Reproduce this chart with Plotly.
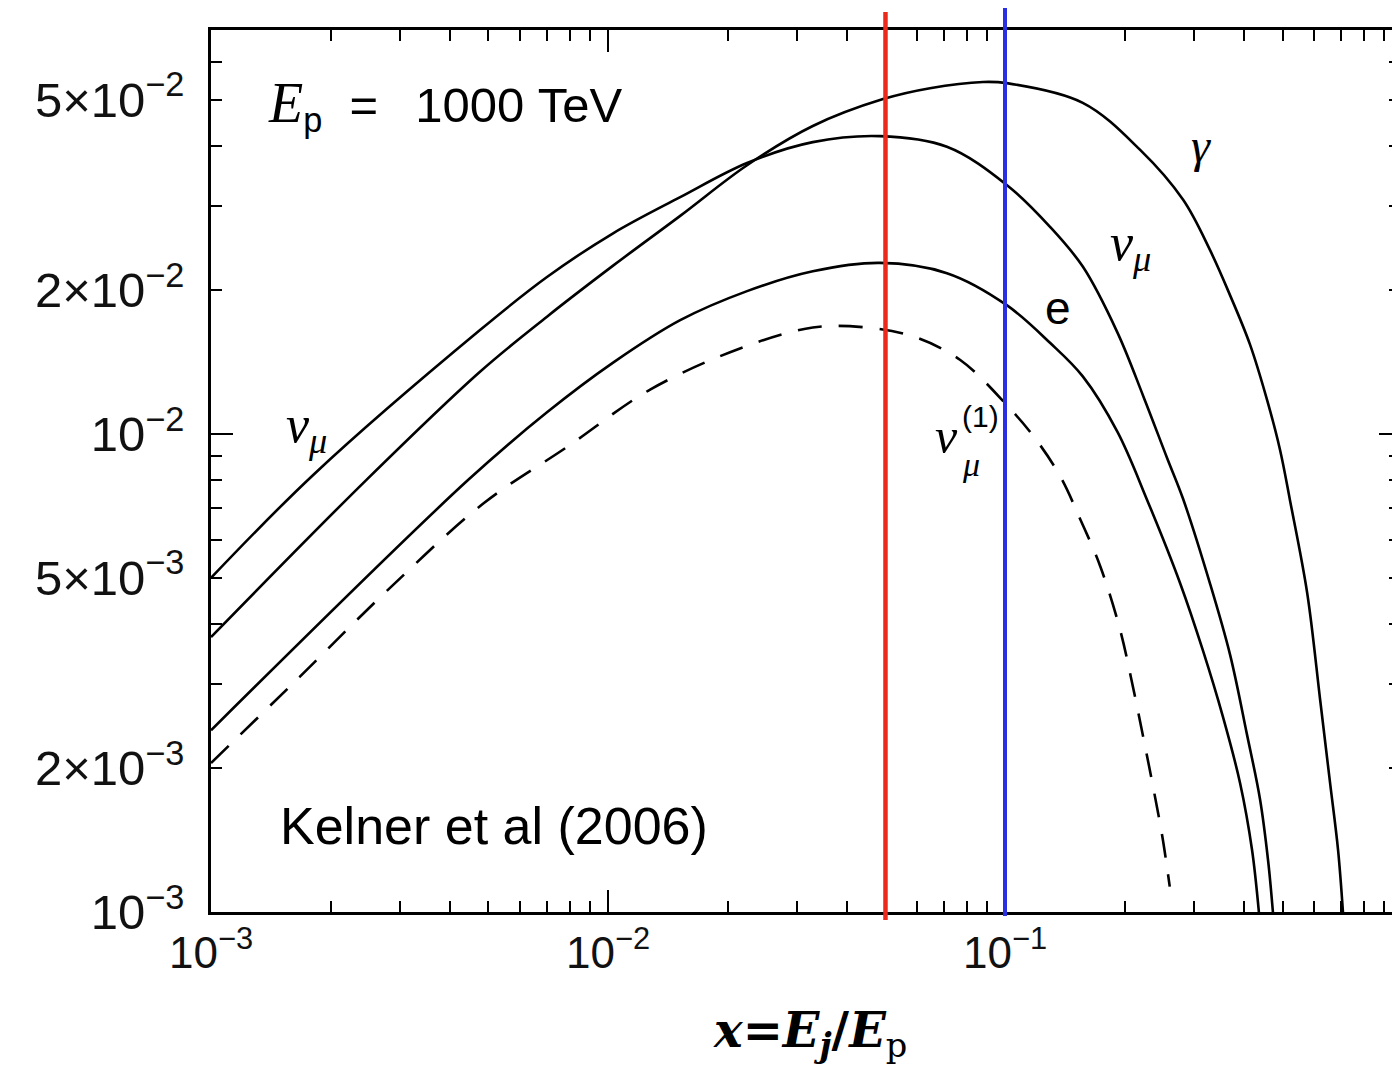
import plotly.graph_objects as go

# ---------------- data ----------------
gamma_x = [0.00100, 0.00246, 0.00476, 0.00702, 0.0103, 0.0152, 0.0224, 0.0328, 0.0493, 0.0647,
           0.0880, 0.101, 0.157, 0.219, 0.281, 0.328, 0.369, 0.414, 0.457, 0.493, 0.522, 0.577,
           0.622, 0.659, 0.690, 0.710]
gamma_y = [0.00376, 0.00801, 0.0135, 0.0176, 0.0225, 0.0286, 0.0365, 0.0441, 0.0502, 0.0529,
           0.0545, 0.0542, 0.0493, 0.0393, 0.0309, 0.0243, 0.0195, 0.0154, 0.0118, 0.00926,
           0.00728, 0.00465, 0.00278, 0.00186, 0.00135, 0.00100]

numu_x = [0.00100, 0.00182, 0.00476, 0.00702, 0.0103, 0.0152, 0.0224, 0.0328, 0.0484, 0.0714,
          0.101, 0.130, 0.157, 0.192, 0.223, 0.256, 0.281, 0.328, 0.369, 0.407, 0.439, 0.460, 0.473]
numu_y = [0.00500, 0.00825, 0.0165, 0.0213, 0.0263, 0.0313, 0.0369, 0.0408, 0.0420, 0.0399,
          0.0332, 0.0271, 0.0224, 0.0163, 0.0120, 0.00891, 0.00731, 0.00488, 0.00345, 0.00235,
          0.00172, 0.00128, 0.00100]

e_x = [0.00100, 0.00444, 0.00702, 0.0103, 0.0152, 0.0224, 0.0328, 0.0484, 0.0714, 0.101, 0.130,
       0.157, 0.192, 0.228, 0.276, 0.315, 0.354, 0.391, 0.419, 0.436]
e_y = [0.00240, 0.00801, 0.0111, 0.0141, 0.0173, 0.0199, 0.0219, 0.0228, 0.0217, 0.0186, 0.0155,
       0.0132, 0.0101, 0.00728, 0.00488, 0.00353, 0.00256, 0.00186, 0.00135, 0.00100]

numu1_x = [0.00100, 0.00167, 0.00279, 0.00487, 0.00788, 0.0128, 0.0215, 0.0328, 0.0449, 0.0587,
           0.0770, 0.101, 0.120, 0.138, 0.155, 0.174, 0.195, 0.210, 0.223, 0.236, 0.249, 0.260]
numu1_y = [0.00205, 0.00310, 0.00472, 0.00717, 0.00939, 0.0124, 0.0151, 0.0167, 0.0167, 0.0160,
           0.0143, 0.0115, 0.00971, 0.00813, 0.00661, 0.00527, 0.00389, 0.00296, 0.00232,
           0.00183, 0.00144, 0.00113]

vline_red_x = 0.05
vline_blue_x = 0.1

x_major = [1e-3, 1e-2, 1e-1]
x_major_text = ["10<sup>\u22123</sup>", "10<sup>\u22122</sup>", "10<sup>\u22121</sup>"]
x_minor = [m * d for d in (1e-3, 1e-2, 1e-1) for m in range(2, 10)]

y_label_vals = [1e-3, 2e-3, 5e-3, 1e-2, 2e-2, 5e-2]
y_label_text = ["10<sup>\u22123</sup>", "2\u00d710<sup>\u22123</sup>", "5\u00d710<sup>\u22123</sup>",
                "10<sup>\u22122</sup>", "2\u00d710<sup>\u22122</sup>", "5\u00d710<sup>\u22122</sup>"]
y_minor = [m * d for d in (1e-3, 1e-2) for m in (3, 4, 6, 7, 8, 9)]
y_all = sorted(y_label_vals + y_minor)

# ---------------- layout geometry ----------------
W, H = 1392, 1069
L, R, T, B = 211, 0, 30, 157
PW, PH = W - L - R, H - T - B
X_RANGE = [-3, -0.0252]
Y_RANGE = [-3, -1.1548]


def px(xp):
    return (xp - L) / PW


def py(yp):
    return (H - B - yp) / PH


SANS = "Liberation Sans, Arial, Helvetica, sans-serif"
SERIF = "Liberation Serif, Times New Roman, serif"
DSERIF = "DejaVu Serif, serif"

fig = go.Figure()
line_style = dict(color="black", width=2.6, shape="spline", smoothing=1.0)
# same ranges on y, y2, y3 -> identical placement; extra axes only add tick marks
fig.add_trace(go.Scatter(x=gamma_x, y=gamma_y, mode="lines", line=line_style, name="\u03b3", yaxis="y2"))
fig.add_trace(go.Scatter(x=numu_x, y=numu_y, mode="lines", line=line_style, name="\u03bd\u03bc", yaxis="y3"))
fig.add_trace(go.Scatter(x=e_x, y=e_y, mode="lines", line=line_style, name="e"))
fig.add_trace(go.Scatter(x=numu1_x, y=numu1_y, mode="lines",
                         line=dict(color="black", width=2.6, dash="24px,17px", shape="spline", smoothing=1.0),
                         name="\u03bd\u03bc(1)"))

fig.add_shape(type="line", xref="x", yref="paper", x0=vline_red_x, x1=vline_red_x,
              y0=-0.009, y1=1.0204, line=dict(color="#ec2a1c", width=4.5), layer="above")
fig.add_shape(type="line", xref="x", yref="paper", x0=vline_blue_x, x1=vline_blue_x,
              y0=-0.0045, y1=1.025, line=dict(color="#2b2fe3", width=4), layer="above")

axis_common = dict(type="log", showgrid=False, zeroline=False, ticks="inside",
                   tickcolor="black", tickwidth=2)

fig.update_layout(
    width=W, height=H,
    margin=dict(l=L, r=R, t=T, b=B, pad=0),
    paper_bgcolor="white", plot_bgcolor="white",
    showlegend=False,
    font=dict(family=SANS, color="black"),
    xaxis=dict(**axis_common, range=X_RANGE, tickmode="array", tickvals=x_major, ticktext=x_major_text,
               ticklen=22, showline=True, linecolor="black", linewidth=2.5, mirror="ticks",
               tickfont=dict(size=44, family=SANS, color="#111"),
               minor=dict(tickmode="array", tickvals=x_minor, ticks="inside", ticklen=11,
                          tickwidth=2, tickcolor="black")),
    yaxis=dict(**axis_common, range=Y_RANGE, tickmode="array", tickvals=y_label_vals, ticktext=y_label_text,
               ticklen=11, showline=True, linecolor="black", linewidth=2.5, mirror=False,
               ticklabelstandoff=14,
               tickfont=dict(size=49, family=SANS, color="#111"),
               minor=dict(tickmode="array", tickvals=y_minor, ticks="inside", ticklen=11,
                          tickwidth=2, tickcolor="black")),
    yaxis2=dict(**axis_common, range=Y_RANGE, overlaying="y", anchor="x", side="left",
                tickmode="array", tickvals=[1e-2], ticklen=22, showticklabels=False, showline=False),
    yaxis3=dict(**axis_common, range=Y_RANGE, overlaying="y", anchor="x", side="right",
                tickmode="array", tickvals=[1e-2], ticklen=13, showticklabels=False, showline=False,
                minor=dict(tickmode="array", tickvals=[v for v in y_all if v != 1e-2], ticks="inside",
                           ticklen=3, tickwidth=2, tickcolor="black")),
)

ann = []


def add(text, xp, yp, size, family=SANS, xanchor="center", yanchor="middle"):
    ann.append(dict(text=text, x=px(xp), y=py(yp), xref="paper", yref="paper", showarrow=False,
                    xanchor=xanchor, yanchor=yanchor, font=dict(size=size, family=family, color="black")))


add("<span style='font-family:Liberation Serif;font-size:56px'><i>E</i></span><sub>p</sub>"
    "\u00a0\u00a0=\u00a0\u00a0\u20091000\u00a0TeV", 266, 106, 49, xanchor="left")
add("Kelner et al (2006)", 278, 826, 52, xanchor="left")
add("<b><i>x</i>=<i>E<sub>j</sub></i>/<i>E</i></b><sub>p</sub>", 810, 1033, 48, family=DSERIF)
add("<i>\u03b3</i>", 1201, 146, 48, family=SERIF)
add("<i>\u03bd<sub>\u03bc</sub></i>", 1130, 246, 52, family=SERIF)
add("e", 1058, 308, 46)
add("<i>\u03bd<sub>\u03bc</sub></i>", 306, 428, 52, family=SERIF)
add("<i>\u03bd</i>", 946, 436, 50, family=SERIF)
add("(1)", 980, 416, 30)
add("<i>\u03bc</i>", 971, 464, 34, family=SERIF)
fig.update_layout(annotations=ann)

fig.write_html("out.html")
